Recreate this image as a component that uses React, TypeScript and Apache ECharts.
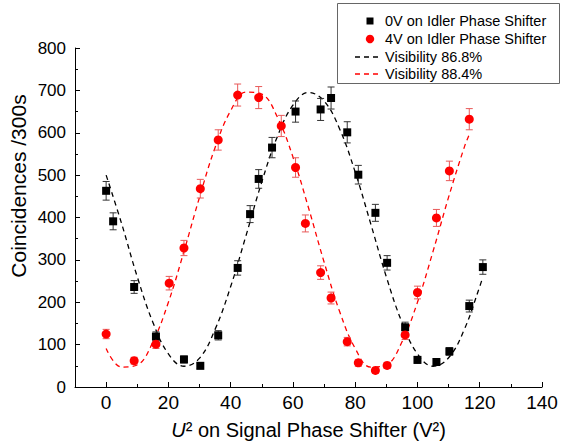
import React, { useEffect, useRef } from "react";
import * as echarts from "echarts";

const FONT = "Liberation Sans, Arial, sans-serif";

// measured data: black squares (0V on idler)
const blackX = [0, 2.25, 9, 16, 25, 30.25, 36, 42.25, 46.24, 49, 53.29, 60.84, 68.89, 72.25, 77.44, 81, 86.49, 90.25, 96.04, 100, 106.09, 110.25, 116.64, 121];
const blackY = [463, 391, 236, 119, 65, 50, 122, 281, 408, 491, 565, 650, 655, 682, 601, 501, 411, 293, 141, 64, 59, 84, 191, 283];
const blackErr = [22, 20, 15, 11, 8, 7, 11, 17, 20, 22, 24, 25, 26, 26, 25, 22, 20, 17, 12, 8, 8, 9, 14, 17];

// red circles (4V on idler)
const redX = [0, 9, 16, 20.25, 25, 30.25, 36, 42.25, 49, 56.25, 60.84, 64, 68.89, 72.25, 77.44, 81, 86.49, 90.25, 96.04, 100, 106.09, 110.25, 116.64];
const redY = [125, 62, 101, 245, 328, 468, 583, 689, 683, 616, 518, 386, 270, 210, 107, 57, 39, 51, 123, 223, 399, 510, 632];
const redErr = [11, 8, 10, 16, 18, 22, 24, 26, 26, 25, 23, 20, 16, 14, 10, 8, 6, 7, 11, 15, 20, 23, 25];

// fit curves
const blackFitX = [0, 5, 10, 15, 20, 25, 30, 35, 40, 45, 50, 55, 60, 65, 70, 75, 80, 85, 90, 95, 100, 105, 110, 115, 120, 121];
const blackFitY = [500, 385, 260, 153, 78, 49, 68, 136, 237, 359, 484, 591, 665, 695, 675, 609, 507, 385, 260, 153, 78, 49, 69, 135, 237, 260];
const redFitX = [0, 5, 10, 15, 20, 25, 30, 35, 40, 45, 50, 55, 60, 65, 70, 75, 80, 85, 90, 95, 100, 105, 110, 115, 116.64];
const redFitY = [91, 47, 52, 106, 200, 320, 448, 565, 652, 696, 691, 637, 543, 423, 295, 178, 91, 47, 52, 106, 200, 320, 448, 565, 596];

const xTicks = [0, 20, 40, 60, 80, 100, 120, 140];
const legendLabels = ["0V on Idler Phase Shifter", "4V on Idler Phase Shifter", "Visibility 86.8%", "Visibility 88.4%"];

function errorSeries(xs: number[], ys: number[], es: number[], color: string) {
  return {
    type: "custom",
    z: 3,
    data: xs.map((x, i) => [x, ys[i], es[i]]),
    encode: { x: 0, y: 1 },
    renderItem: (_p: any, api: any) => {
      const x = api.value(0);
      const y = api.value(1);
      const e = api.value(2);
      const t = api.coord([x, y + e]);
      const b = api.coord([x, y - e]);
      const hw = 3.5;
      const st = { stroke: color, lineWidth: 1 };
      return {
        type: "group",
        children: [
          { type: "line", shape: { x1: t[0], y1: t[1], x2: b[0], y2: b[1] }, style: st },
          { type: "line", shape: { x1: t[0] - hw, y1: t[1], x2: t[0] + hw, y2: t[1] }, style: st },
          { type: "line", shape: { x1: b[0] - hw, y1: b[1], x2: b[0] + hw, y2: b[1] }, style: st },
        ],
      };
    },
  };
}

export default function App() {
  const ref = useRef<HTMLDivElement>(null);
  useEffect(() => {
    if (!ref.current) return;
    const chart = echarts.init(ref.current, undefined, { renderer: "svg" });
    const dashLine = (x1: number, y: number, color: string) => ({
      type: "line",
      z: 12,
      shape: { x1, y1: y, x2: x1 + 27, y2: y },
      style: { stroke: color, lineWidth: 1.3, lineDash: [5, 4] },
    });
    const legendText = (y: number, text: string) => ({
      type: "text",
      z: 12,
      x: 385,
      y,
      style: { text, fontSize: 14.5, fontFamily: FONT, fill: "#000", align: "left", verticalAlign: "middle" },
    });
    chart.setOption({
      animation: false,
      backgroundColor: "#fff",
      grid: { left: 75, right: 19, top: 48, bottom: 58, containLabel: false },
      xAxis: [
        {
          type: "value",
          min: -10,
          max: 140,
          position: "bottom",
          axisLine: { show: true, onZero: false, lineStyle: { color: "#000", width: 1 } },
          axisTick: { show: true, inside: true, length: 5, customValues: xTicks, lineStyle: { color: "#000" } },
          axisLabel: { customValues: xTicks, fontSize: 19, color: "#000", fontFamily: FONT, margin: 6 },
          splitLine: { show: false },
          name: "{i|U}² on Signal Phase Shifter (V²)",
          nameLocation: "middle",
          nameGap: 33,
          nameTextStyle: {
            fontSize: 20,
            color: "#000",
            fontFamily: FONT,
            rich: { i: { fontSize: 20, fontStyle: "italic", color: "#000", fontFamily: FONT } },
          },
        },
        {
          type: "value",
          min: -10,
          max: 140,
          interval: 10,
          position: "bottom",
          axisLine: { show: false },
          axisTick: { show: true, inside: true, length: 3, lineStyle: { color: "#000" } },
          axisLabel: { show: false },
          splitLine: { show: false },
        },
      ],
      yAxis: {
        type: "value",
        min: 0,
        max: 800,
        interval: 100,
        axisLine: { show: true, onZero: false, lineStyle: { color: "#000", width: 1 } },
        axisTick: { show: true, inside: true, length: 5, lineStyle: { color: "#000" } },
        minorTick: { show: true, splitNumber: 2, length: 3, lineStyle: { color: "#000" } },
        axisLabel: { fontSize: 17, color: "#000", fontFamily: FONT, margin: 9 },
        splitLine: { show: false },
        minorSplitLine: { show: false },
      },
      series: [
        {
          name: legendLabels[2],
          type: "line",
          data: blackFitX.map((x, i) => [x, blackFitY[i]]),
          smooth: 0.4,
          showSymbol: false,
          symbol: "none",
          z: 1,
          lineStyle: { color: "#000", width: 1.3, type: [5, 4] },
        },
        {
          name: legendLabels[3],
          type: "line",
          data: redFitX.map((x, i) => [x, redFitY[i]]),
          smooth: 0.4,
          showSymbol: false,
          symbol: "none",
          z: 1,
          lineStyle: { color: "#ff0000", width: 1.3, type: [5, 4] },
        },
        errorSeries(blackX, blackY, blackErr, "#333"),
        errorSeries(redX, redY, redErr, "#e85a5a"),
        {
          name: legendLabels[0],
          type: "scatter",
          symbol: "rect",
          symbolSize: 8,
          z: 4,
          itemStyle: { color: "#000", opacity: 1 },
          data: blackX.map((x, i) => [x, blackY[i]]),
        },
        {
          name: legendLabels[1],
          type: "scatter",
          symbol: "circle",
          symbolSize: 9,
          z: 4,
          itemStyle: { color: "#ff0000", opacity: 1 },
          data: redX.map((x, i) => [x, redY[i]]),
        },
      ],
      graphic: [
        {
          type: "text",
          x: 18,
          y: 186,
          rotation: Math.PI / 2,
          style: { text: "Coincidences /300s", fontSize: 21, fontFamily: FONT, fill: "#000", align: "center", verticalAlign: "middle" },
        },
        {
          type: "rect",
          z: 10,
          shape: { x: 337.5, y: 3.5, width: 222, height: 80 },
          style: { fill: "#fff", stroke: "#666", lineWidth: 1 },
        },
        { type: "rect", z: 12, shape: { x: 366.5, y: 17.5, width: 7, height: 7 }, style: { fill: "#000" } },
        { type: "circle", z: 12, shape: { cx: 370, cy: 39, r: 4.2 }, style: { fill: "#ff0000" } },
        dashLine(355, 57, "#000"),
        dashLine(355, 74, "#ff0000"),
        legendText(21, legendLabels[0]),
        legendText(39, legendLabels[1]),
        legendText(57, legendLabels[2]),
        legendText(74, legendLabels[3]),
      ],
    });
    return () => chart.dispose();
  }, []);
  return <div ref={ref} style={{ position: "absolute", left: 0, top: 0, width: 561, height: 445 }} />;
}
